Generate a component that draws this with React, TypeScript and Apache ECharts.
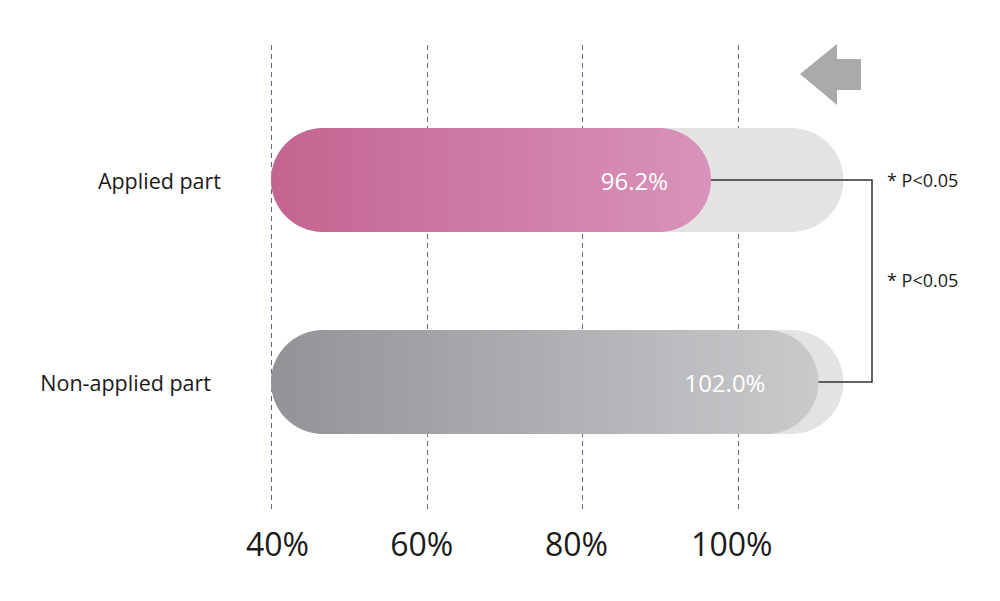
import React, { useEffect, useRef } from "react";
import * as echarts from "echarts";

const categories = ["Applied part", "Non-applied part"];
const barEnds = [96.5, 110.3]; // bar lengths as drawn
const valueLabels = ["96.2%", "102.0%"];
const backgroundEnd = [113.5, 113.5];
const axisMin = 40;
const axisMax = 120;
const tickLabels = ["40%", "60%", "80%", "100%"];
const sigLabels = ["* P<0.05", "* P<0.05"];

const FONT = "'Open Sans', 'Noto Sans', sans-serif";

export default function App() {
  const ref = useRef<HTMLDivElement>(null);
  useEffect(() => {
    if (!ref.current) return;
    const chart = echarts.init(ref.current, null, { renderer: "svg" });
    const gridLeft = 271;
    const gridRight = 106;
    const gradients = [
      new echarts.graphic.LinearGradient(0, 0, 1, 0, [
        { offset: 0, color: "#c3648f" },
        { offset: 1, color: "#d993ba" },
      ]),
      new echarts.graphic.LinearGradient(0, 0, 1, 0, [
        { offset: 0, color: "#929396" },
        { offset: 1, color: "#c9cacc" },
      ]),
    ];
    const labelDist = [43, 53];
    const tickPads = [
      [0, 0, 0, 13],
      [0, 10, 0, 0],
      [0, 12, 0, 0],
      [0, 13, 0, 0],
    ];
    const rich: any = {};
    tickPads.forEach((p, i) => {
      rich["t" + i] = { padding: p, fontSize: 32, fontFamily: FONT, color: "#1a1a1a" };
    });
    const option: any = {
      animation: false,
      grid: [
        { left: gridLeft, right: gridRight, top: 45, bottom: 89 },
        { left: gridLeft, right: gridRight, top: 79, bottom: 118 },
      ],
      xAxis: [
        {
          type: "value",
          gridIndex: 0,
          min: axisMin,
          max: axisMax,
          interval: 20,
          axisLine: { show: false },
          axisTick: { show: false },
          splitLine: {
            show: true,
            showMaxLine: false,
            lineStyle: { color: "#5b6d83", type: [5, 4], width: 1 },
          },
          axisLabel: {
            showMaxLabel: false,
            margin: 15,
            fontSize: 32,
            fontFamily: FONT,
            color: "#1a1a1a",
            rich,
            formatter: (v: number) => {
              const i = (v - axisMin) / 20;
              return tickLabels[i] ? `{t${i}|${tickLabels[i]}}` : "";
            },
          },
        },
        {
          type: "value",
          gridIndex: 1,
          min: axisMin,
          max: axisMax,
          interval: 20,
          show: false,
          splitLine: { show: false },
        },
      ],
      yAxis: [
        { type: "category", gridIndex: 0, data: categories, show: false },
        {
          type: "category",
          gridIndex: 1,
          inverse: true,
          data: categories.map((c, i) => ({
            value: c,
            textStyle: { padding: i === 1 ? [0, 10, 0, 0] : [0, 0, 0, 0] },
          })),
          axisLine: { show: false },
          axisTick: { show: false },
          axisLabel: {
            margin: 50,
            fontSize: 21.5,
            fontFamily: FONT,
            color: "#1a1a1a",
          },
        },
      ],
      series: [
        {
          type: "bar",
          xAxisIndex: 1,
          yAxisIndex: 1,
          stack: "bg",
          barWidth: 104,
          barGap: "-100%",
          silent: true,
          itemStyle: { color: "transparent" },
          data: categories.map(() => axisMin),
        },
        {
          type: "bar",
          xAxisIndex: 1,
          yAxisIndex: 1,
          stack: "bg",
          barWidth: 104,
          barGap: "-100%",
          itemStyle: { color: "#e3e3e2", borderRadius: 52 },
          data: backgroundEnd.map((v) => v - axisMin),
        },
        {
          type: "bar",
          xAxisIndex: 1,
          yAxisIndex: 1,
          stack: "fg",
          barWidth: 104,
          barGap: "-100%",
          silent: true,
          itemStyle: { color: "transparent" },
          data: categories.map(() => axisMin),
        },
        {
          type: "bar",
          xAxisIndex: 1,
          yAxisIndex: 1,
          stack: "fg",
          barWidth: 104,
          barGap: "-100%",
          itemStyle: { borderRadius: 52 },
          data: barEnds.map((v, i) => ({
            value: v - axisMin,
            itemStyle: { color: gradients[i], borderRadius: 52 },
            label: {
              show: true,
              position: "insideRight",
              distance: labelDist[i],
              formatter: valueLabels[i],
              color: "#ffffff",
              fontSize: 24,
              fontFamily: FONT,
            },
          })),
        },
      ],
    };
    chart.setOption(option);

    const p0 = chart.convertToPixel({ xAxisIndex: 1, yAxisIndex: 1 }, [barEnds[0], categories[0]]);
    const p1 = chart.convertToPixel({ xAxisIndex: 1, yAxisIndex: 1 }, [barEnds[1], categories[1]]);
    const bx = 872;
    chart.setOption({
      graphic: [
        {
          type: "polyline",
          shape: {
            points: [
              [p0[0], p0[1]],
              [bx, p0[1]],
              [bx, p1[1]],
              [p1[0], p1[1]],
            ],
          },
          style: { stroke: "#333333", lineWidth: 1.5, fill: null },
          z: 10,
        },
        {
          type: "text",
          x: 887,
          y: p0[1],
          style: {
            text: sigLabels[0],
            fontSize: 18,
            fontFamily: FONT,
            fill: "#1a1a1a",
            verticalAlign: "middle",
          },
        },
        {
          type: "text",
          x: 887,
          y: 280,
          style: {
            text: sigLabels[1],
            fontSize: 18,
            fontFamily: FONT,
            fill: "#1a1a1a",
            verticalAlign: "middle",
          },
        },
        {
          type: "polygon",
          shape: {
            points: [
              [800, 74],
              [837, 44],
              [837, 59],
              [861, 59],
              [861, 90],
              [837, 90],
              [837, 105],
            ],
          },
          style: { fill: "#a9aaac" },
        },
      ],
    });
    return () => chart.dispose();
  }, []);
  return <div ref={ref} style={{ width: 1000, height: 601, position: "absolute", left: 0, top: 0 }} />;
}
